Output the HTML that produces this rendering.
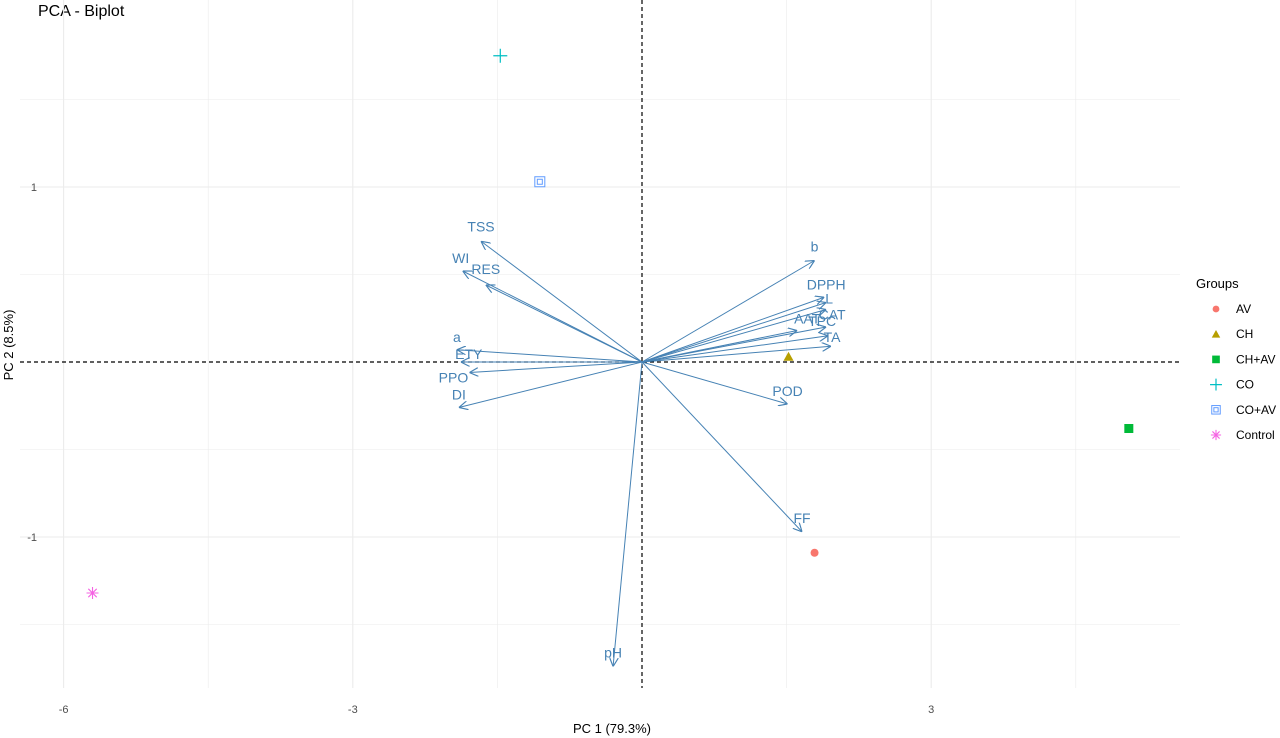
<!DOCTYPE html>
<html><head><meta charset="utf-8"><style>
body{margin:0;background:#fff;}
svg{display:block;font-family:"Liberation Sans",Arial,sans-serif;}
</style></head><body>
<svg id="c" width="1280" height="738" viewBox="0 0 1280 738">
<defs><marker id="ah" viewBox="0 0 10 10" refX="10" refY="5" markerWidth="9" markerHeight="9" markerUnits="userSpaceOnUse" orient="auto"><path d="M0,0 L10,5 L0,10" fill="none" stroke="#4682B4" stroke-width="1.3"/></marker></defs>
<text x="38" y="16" font-size="16" fill="#000">PCA - Biplot</text>
<g id="grid"></g><g id="arrows"></g><g id="pts"></g><g id="ticks"></g>
<text x="612" y="733" font-size="13" text-anchor="middle" fill="#000">PC 1 (79.3%)</text>
<text transform="translate(13,345) rotate(-90)" font-size="13" text-anchor="middle" fill="#000">PC 2 (8.5%)</text>
<g id="legend"></g>
</svg>
<script>
const xTicks=[-6,-3,3];
const yTicks=[-1,1];
const varNames=["b","DPPH","L","CAT","AAT","TPC","TA","X","POD","FF","pH","TSS","WI","RES","a","ETY","PPO","DI"];
const varX=[1.79,1.89,1.91,1.91,1.61,1.91,1.93,1.96,1.51,1.66,-0.30,-1.67,-1.86,-1.62,-1.92,-1.88,-1.79,-1.90];
const varY=[0.58,0.37,0.34,0.30,0.18,0.20,0.15,0.09,-0.24,-0.97,-1.74,0.69,0.52,0.44,0.07,0.0,-0.06,-0.26];
const lblDx=[0,2,3,6,10,-4,4,0,0,0,0,0,-2,0,0,8,-16,0];
const lblDy=[-14,-13,-4,5,-12,-6,1,0,-13,-14,-14,-15,-13,-16,-13,-8,5,-13];
const groups=["AV","CH","CH+AV","CO","CO+AV","Control"];
const grpX=[1.79,1.52,5.05,-1.47,-1.06,-5.7];
const grpY=[-1.09,0.03,-0.38,1.75,1.03,-1.32];
const colors=["#F8766D","#B79F00","#00BA38","#00BFC4","#619CFF","#F564E3"];
const X=v=>642+v*96.4, Y=v=>362-v*175;
const NS="http://www.w3.org/2000/svg";
function mk(p,t,a){const e=document.createElementNS(NS,t);for(const k in a)e.setAttribute(k,a[k]);p.appendChild(e);return e;}
const g=document.getElementById('grid');
const L=20,R=1180,T=0,B=688;
for(const v of [-6,-4.5,-3,-1.5,1.5,3,4.5]){const l=mk(g,'line',{x1:X(v),x2:X(v),y1:T,y2:B,stroke:'#ebebeb','stroke-width':Number.isInteger(v)?1.1:0.6});

}
for(const v of [-1.5,-1,-0.5,0.5,1,1.5]){const l=mk(g,'line',{x1:L,x2:R,y1:Y(v),y2:Y(v),stroke:'#ebebeb','stroke-width':Number.isInteger(v)?1.1:0.6});

}
const z1=mk(g,'line',{x1:L,x2:R,y1:Y(0),y2:Y(0),stroke:'#000','stroke-dasharray':'4,3','stroke-width':1.2});


const z2=mk(g,'line',{x1:X(0),x2:X(0),y1:T,y2:B,stroke:'#000','stroke-dasharray':'4,3','stroke-width':1.2});


const a=document.getElementById('arrows');
varNames.forEach((n,i)=>{
const l=mk(a,'line',{x1:X(0),y1:Y(0),x2:X(varX[i]),y2:Y(varY[i]),stroke:'#4682B4','stroke-width':1,'marker-end':'url(#ah)'});


if(n==="X")return;
const t=mk(a,'text',{x:X(varX[i])+lblDx[i],y:Y(varY[i])+lblDy[i]+5,'font-size':14,fill:'#4682B4','text-anchor':'middle'});t.textContent=n;


});
function shape(p,k,x,y,c,s){
if(k==0)mk(p,'circle',{cx:x,cy:y,r:4*s,fill:c});
else if(k==1)mk(p,'path',{d:`M${x},${y-5*s}L${x+5*s},${y+4*s}L${x-5*s},${y+4*s}Z`,fill:c});
else if(k==2)mk(p,'rect',{x:x-4.5*s,y:y-4.5*s,width:9*s,height:9*s,fill:c});
else if(k==3)mk(p,'path',{d:`M${x-7*s},${y}H${x+7*s}M${x},${y-7*s}V${y+7*s}`,stroke:c,'stroke-width':1.2,fill:'none'});
else if(k==4){mk(p,'rect',{x:x-5*s,y:y-5*s,width:10*s,height:10*s,fill:'none',stroke:c,'stroke-width':1});mk(p,'rect',{x:x-2.5*s,y:y-2.5*s,width:5*s,height:5*s,fill:'none',stroke:c,'stroke-width':1});}
else {const d=6*s;mk(p,'path',{d:`M${x-d},${y}H${x+d}M${x},${y-d}V${y+d}M${x-d*0.7},${y-d*0.7}L${x+d*0.7},${y+d*0.7}M${x-d*0.7},${y+d*0.7}L${x+d*0.7},${y-d*0.7}`,stroke:c,'stroke-width':1.1,fill:'none'});}
}
const P=document.getElementById('pts');
groups.forEach((n,i)=>{const gg=mk(P,'g',{});


shape(gg,i,X(grpX[i]),Y(grpY[i]),colors[i],1);});
const tk=document.getElementById('ticks');
xTicks.forEach(v=>{const t=mk(tk,'text',{x:X(v),y:713,'font-size':11,fill:'#4d4d4d','text-anchor':'middle'});t.textContent=v;

});
yTicks.forEach(v=>{const t=mk(tk,'text',{x:37,y:Y(v)+4,'font-size':11,fill:'#4d4d4d','text-anchor':'end'});t.textContent=v;

});
const lg=document.getElementById('legend');
const lt=mk(lg,'text',{x:1196,y:288,'font-size':13,fill:'#000'});lt.textContent='Groups';


groups.forEach((n,i)=>{const y=309+i*25.2;const gg=mk(lg,'g',{});


shape(gg,i,1216,y,colors[i],0.85);
const t=mk(gg,'text',{x:1236,y:y+4,'font-size':12,fill:'#000'});t.textContent=n;});
</script>
</body></html>
